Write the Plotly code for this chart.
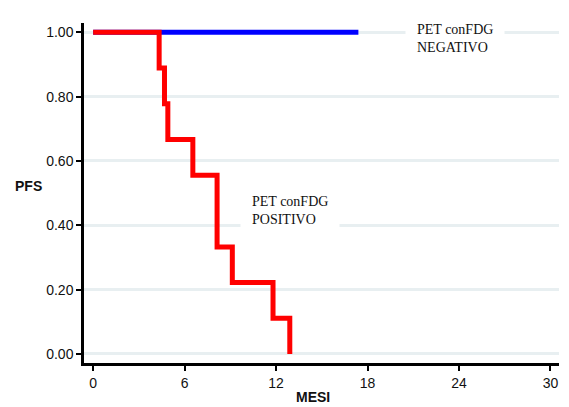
import plotly.graph_objects as go

# Data
neg_x = [0, 17.4]
neg_y = [1.0, 1.0]
pos_x = [0, 4.33, 4.68, 4.9, 6.54, 8.13, 9.13, 11.8, 12.9]
pos_y = [1.0, 0.889, 0.778, 0.667, 0.556, 0.333, 0.222, 0.111, 0.0]
x_ticks = [0, 6, 12, 18, 24, 30]
y_ticks = [0.0, 0.2, 0.4, 0.6, 0.8, 1.0]

fig = go.Figure()
fig.add_trace(go.Scatter(x=neg_x, y=neg_y, mode="lines", line=dict(color="#0000ff", width=5),
                         line_shape="hv", showlegend=False))
fig.add_trace(go.Scatter(x=pos_x, y=pos_y, mode="lines", line=dict(color="#ff0000", width=5),
                         line_shape="hv", showlegend=False))

serif = dict(family="Liberation Serif, Times New Roman, serif", size=14, color="#111111")
fig.add_annotation(x=20.46, y=0.981, xref="x", yref="y", xanchor="left", yanchor="middle",
                   text="PET conFDG<br>NEGATIVO", showarrow=False, align="left",
                   font=serif, bgcolor="white", borderpad=11)
fig.add_annotation(x=9.64, y=0.445, xref="x", yref="y", xanchor="left", yanchor="middle",
                   text="PET conFDG<br>POSITIVO", showarrow=False, align="left",
                   font=serif, bgcolor="white", borderpad=11)

plot_w = 569 - 84 - 10
sans_b = dict(family="Liberation Sans, Arial, sans-serif", size=14, color="#111111")
fig.add_annotation(x=(28 - 84) / plot_w, y=0.523, xref="paper", yref="y", text="<b>PFS</b>",
                   showarrow=False, font=sans_b, xanchor="center", yanchor="middle")
fig.add_annotation(x=14.4, y=0, xref="x", yref="paper", text="<b>MESI</b>", showarrow=False,
                   font=sans_b, xanchor="center", yanchor="top", yshift=-24)

fig.update_layout(
    width=569, height=407,
    margin=dict(l=84, r=10, t=23, b=44),
    plot_bgcolor="white", paper_bgcolor="white",
    font=dict(family="Liberation Sans, Arial, sans-serif", size=14, color="#111111"),
)
fig.update_xaxes(range=[-0.6, 30.56], tickvals=x_ticks, ticktext=[str(v) for v in x_ticks],
                 showgrid=False, zeroline=False, showline=True, linecolor="black", linewidth=2.5,
                 ticks="outside", ticklen=5, tickwidth=2, tickcolor="black")
fig.update_yaxes(range=[-0.028, 1.029], tickvals=y_ticks, ticktext=[f"{v:.2f}" for v in y_ticks],
                 showgrid=True, gridcolor="#e8eff1", gridwidth=3, zeroline=False,
                 showline=True, linecolor="black", linewidth=2.5,
                 ticks="outside", ticklen=5, tickwidth=2, tickcolor="black")

fig.write_html("out.html")
